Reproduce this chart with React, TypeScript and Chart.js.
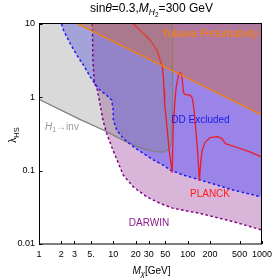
import React, { useEffect, useRef } from "react";
import { Chart, registerables } from "chart.js";

Chart.register(...registerables);

const FONT = "'Liberation Sans', Arial, sans-serif";

const xTickValues = [1, 2, 3, 5, 10, 20, 30, 50, 100, 200, 500, 1000];
const xTickLabels = ["1", "2", "3", "5.", "10", "20", "30", "50", "100", "200", "500", "1000"];
const yTickValues = [0.01, 0.1, 1, 10];
const yTickLabels = ["0.01", "0.1", "1", "10"];

// H1 -> invisible boundary
const invMass = [1, 3.54, 7.7, 14.3, 22.9, 31.2, 42.6, 49.7, 55.4, 59.0, 60.8, 61.8, 62.5];
const invLambda = [0.94, 0.5, 0.35, 0.253, 0.206, 0.188, 0.179, 0.182, 0.197, 0.223, 0.279, 0.49, 10];

// Direct detection exclusion boundary
const ddMass = [2.01, 2.15, 2.65, 3.26, 4.01, 4.94, 5.82, 6.59, 8.12, 9.49, 9.97, 10.0, 11.1, 13.6, 18.6, 25.3, 34.5, 47.1, 58, 87.7, 147.5, 248, 375, 1000];
const ddLambda = [10, 8.1, 5.33, 3.7, 2.7, 1.87, 1.47, 1.26, 1.07, 0.92, 0.67, 0.49, 0.358, 0.276, 0.212, 0.172, 0.14, 0.119, 0.102, 0.087, 0.0745, 0.0637, 0.0556, 0.0436];

// DARWIN projected sensitivity
const darwinMass = [5.22, 5.31, 5.56, 6.1, 6.59, 7.24, 8.12, 9.49, 11.2, 13.6, 18.6, 28.1, 42.6, 64.3, 147.5, 415, 1000];
const darwinLambda = [10, 3.23, 1.57, 1.26, 0.83, 0.49, 0.323, 0.212, 0.14, 0.087, 0.06, 0.044, 0.0358, 0.0306, 0.0261, 0.0201, 0.0155];

// Yukawa perturbativity bound
const yukawaMass = [3.33, 1000];
const yukawaLambda = [10, 0.57];

// PLANCK relic density curve
const planckMass = [18.56, 25.3, 31.2, 38.4, 42.6, 45.7, 47.1, 48.2, 48.9, 52.4, 56.3, 62.0, 63.7, 66.8, 70.0, 75.2, 79.7, 83.5, 85.1, 87.8, 92.5, 108, 115, 120.5, 129, 137, 144, 150.7, 157, 172, 201, 250, 290, 321, 466, 697, 1000];
const planckLambda = [10, 7.47, 6.05, 4.42, 3.23, 2.59, 1.89, 1.26, 0.836, 0.419, 0.191, 0.095, 0.358, 0.785, 1.38, 2.01, 2.21, 1.95, 1.62, 1.18, 1.09, 1.07, 0.98, 0.738, 0.358, 0.163, 0.0745, 0.14, 0.191, 0.245, 0.283, 0.292, 0.274, 0.234, 0.207, 0.179, 0.153];

const pts = (xs: number[], ys: number[]) => xs.map((x, i) => ({ x, y: ys[i] }));

type Seg = { t: string; it?: boolean; s: number; dy?: number };

function fontOf(seg: Seg) {
  return `${seg.it ? "italic " : ""}${seg.s}px ${FONT}`;
}

function drawRich(ctx: CanvasRenderingContext2D, segs: Seg[], x: number, y: number, align: "left" | "center" | "right", color: string) {
  let w = 0;
  for (const sg of segs) {
    ctx.font = fontOf(sg);
    w += ctx.measureText(sg.t).width;
  }
  let cx = align === "left" ? x : align === "center" ? x - w / 2 : x - w;
  ctx.fillStyle = color;
  ctx.textAlign = "left";
  ctx.textBaseline = "alphabetic";
  for (const sg of segs) {
    ctx.font = fontOf(sg);
    ctx.fillText(sg.t, cx, y + (sg.dy || 0));
    cx += ctx.measureText(sg.t).width;
  }
}

const overlayPlugin = {
  id: "overlay",
  afterDraw(chart: any) {
    const ctx: CanvasRenderingContext2D = chart.ctx;
    const { left, right, top, bottom } = chart.chartArea;
    const xs = chart.scales.x;
    const ys = chart.scales.y;
    ctx.save();
    // frame
    ctx.strokeStyle = "#000";
    ctx.lineWidth = 1;
    ctx.strokeRect(Math.round(left) + 0.5, Math.round(top) - 0.5, Math.round(right - left) - 1, Math.round(bottom - top) + 0.5);
    // ticks
    ctx.beginPath();
    for (const v of xTickValues) {
      const px = Math.round(xs.getPixelForValue(v)) + 0.5;
      ctx.moveTo(px, bottom);
      ctx.lineTo(px, bottom - 3);
    }
    for (const v of yTickValues) {
      const py = Math.round(ys.getPixelForValue(v)) + 0.5;
      ctx.moveTo(left, py);
      ctx.lineTo(left + 3.5, py);
    }
    ctx.stroke();

    // x tick labels
    ctx.fillStyle = "#000";
    ctx.font = `9px ${FONT}`;
    ctx.textAlign = "center";
    ctx.textBaseline = "alphabetic";
    xTickValues.forEach((v, i) => {
      ctx.fillText(xTickLabels[i], xs.getPixelForValue(v), 256.5);
    });

    // title
    drawRich(ctx, [
      { t: "sin", s: 12 },
      { t: "θ", it: true, s: 12 },
      { t: "=0.3,", s: 12 },
      { t: "M", it: true, s: 12 },
      { t: "H", it: true, s: 8.5, dy: 2.5 },
      { t: "2", s: 6.5, dy: 4.5 },
      { t: "=300 GeV", s: 12 },
    ], 151.5, 12, "center", "#000");

    // x axis title
    drawRich(ctx, [
      { t: "M", it: true, s: 10 },
      { t: "χ", it: true, s: 7.5, dy: 2.5 },
      { t: "[GeV]", s: 10 },
    ], 151.5, 273.5, "center", "#000");

    // y axis title (rotated)
    ctx.save();
    ctx.translate(16, 135);
    ctx.rotate(-Math.PI / 2);
    drawRich(ctx, [
      { t: "λ", s: 10 },
      { t: "HS", s: 7.5, dy: 2.5 },
    ], 0, 0, "center", "#000");
    ctx.restore();

    // region labels
    drawRich(ctx, [{ t: "Yukawa Perturbativity", s: 10 }], 258, 37, "right", "#ff8000");
    drawRich(ctx, [{ t: "DD Excluded", s: 10 }], 200.5, 122.5, "center", "#1a1ae6");
    drawRich(ctx, [{ t: "PLANCK", s: 10 }], 210, 196.5, "center", "#ff1a1a");
    drawRich(ctx, [{ t: "DARWIN", s: 10 }], 149, 226, "center", "#8a1a8a");
    drawRich(ctx, [
      { t: "H", it: true, s: 10 },
      { t: "1", s: 7, dy: 2.5 },
      { t: "→inv", s: 10 },
    ], 45, 129.5, "left", "#999999");
    ctx.restore();
  },
};

export default function App() {
  const ref = useRef<HTMLCanvasElement | null>(null);
  useEffect(() => {
    const canvas = ref.current;
    if (!canvas) return;
    Chart.defaults.font.family = FONT;
    const base = { pointRadius: 0, tension: 0, borderJoinStyle: "round" as const };
    const chart = new Chart(canvas, {
      type: "line",
      data: {
        datasets: [
          // drawn last (top)
          { ...base, data: pts(yukawaMass, yukawaLambda), borderColor: "rgb(255,128,0)", borderWidth: 1.2, fill: false },
          { ...base, data: pts(yukawaMass, yukawaLambda), borderWidth: 0, borderColor: "rgba(0,0,0,0)", backgroundColor: "rgba(210,104,45,0.38)", fill: "end" },
          { ...base, data: pts(planckMass, planckLambda), borderColor: "rgb(240,25,35)", borderWidth: 1.3, fill: false },
          { ...base, data: pts(ddMass, ddLambda), borderColor: "rgb(25,25,240)", borderWidth: 1.5, borderDash: [2.5, 2.5], fill: false },
          { ...base, data: pts(darwinMass, darwinLambda), borderColor: "rgb(128,0,128)", borderWidth: 1.5, borderDash: [2.5, 2.5], fill: false },
          { ...base, data: pts(invMass, invLambda), borderColor: "rgb(128,128,128)", borderWidth: 1.3, backgroundColor: "rgba(128,128,128,0.3)", fill: "end" },
          { ...base, data: pts(ddMass, ddLambda), borderWidth: 0, borderColor: "rgba(0,0,0,0)", backgroundColor: "rgba(50,50,255,0.38)", fill: "end" },
          { ...base, data: pts(darwinMass, darwinLambda), borderWidth: 0, borderColor: "rgba(0,0,0,0)", backgroundColor: "rgba(128,0,128,0.29)", fill: "end" },
        ],
      },
      options: {
        animation: false,
        responsive: false,
        devicePixelRatio: 1,
        layout: { padding: { left: 0, right: 12, top: 24, bottom: 0 } },
        plugins: { legend: { display: false }, tooltip: { enabled: false }, title: { display: false } },
        scales: {
          x: {
            type: "logarithmic",
            min: 1,
            max: 1000,
            grid: { display: false, drawTicks: false },
            border: { display: false },
            afterBuildTicks: (axis: any) => {
              axis.ticks = xTickValues.map((v) => ({ value: v }));
            },
            afterFit: (axis: any) => {
              axis.height = 35;
            },
            ticks: { display: false },
          },
          y: {
            type: "logarithmic",
            min: 0.01,
            max: 10,
            grid: { display: false, drawTicks: false },
            border: { display: false },
            afterBuildTicks: (axis: any) => {
              axis.ticks = yTickValues.map((v) => ({ value: v }));
            },
            afterFit: (axis: any) => {
              axis.width = 39;
            },
            ticks: {
              autoSkip: false,
              padding: 4,
              color: "#000",
              font: { size: 9, family: FONT },
              callback: (value: any) => yTickLabels[yTickValues.indexOf(Number(value))] ?? "",
            },
          },
        },
      },
      plugins: [overlayPlugin],
    });
    return () => chart.destroy();
  }, []);
  return (
    <div style={{ position: "absolute", left: 0, top: 0, width: 274, height: 279 }}>
      <canvas ref={ref} width={274} height={279} style={{ width: 274, height: 279, display: "block" }} />
    </div>
  );
}
